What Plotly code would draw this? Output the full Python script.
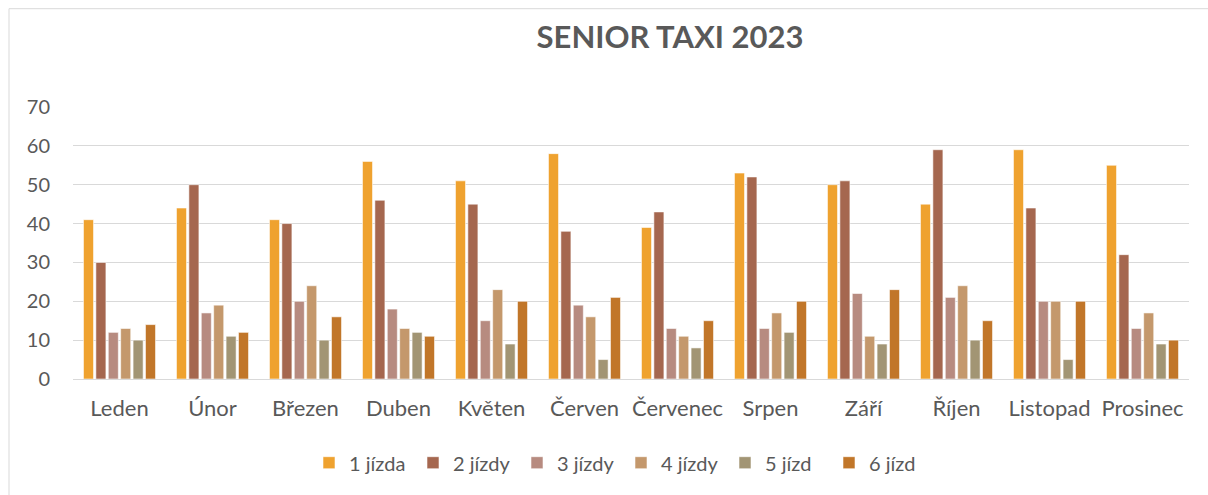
import plotly.graph_objects as go

months = ["Leden", "Únor", "Březen", "Duben", "Květen", "Červen", "Červenec",
          "Srpen", "Září", "Říjen", "Listopad", "Prosinec"]

jizda_1 = [41, 44, 41, 56, 51, 58, 39, 53, 50, 45, 59, 55]
jizdy_2 = [30, 50, 40, 46, 45, 38, 43, 52, 51, 59, 44, 32]
jizdy_3 = [12, 17, 20, 18, 15, 19, 13, 13, 22, 21, 20, 13]
jizdy_4 = [13, 19, 24, 13, 23, 16, 11, 17, 11, 24, 20, 17]
jizd_5 = [10, 11, 10, 12, 9, 5, 8, 12, 9, 10, 5, 9]
jizd_6 = [14, 12, 16, 11, 20, 21, 15, 20, 23, 15, 20, 10]

series_names = ["1 jízda", "2 jízdy", "3 jízdy", "4 jízdy", "5 jízd", "6 jízd"]
series_values = [jizda_1, jizdy_2, jizdy_3, jizdy_4, jizd_5, jizd_6]
colors = ["#EFA22F", "#A5674F", "#B78B80", "#C4986C", "#A29574", "#C17629"]

title_text = "SENIOR TAXI 2023"
y_ticks = [0, 10, 20, 30, 40, 50, 60, 70]

FONT = "Lato"
TXT = "#595959"

fig = go.Figure()
for name, vals, col in zip(series_names, series_values, colors):
    fig.add_trace(go.Bar(
        x=months, y=vals, name=name,
        marker=dict(color=col, line=dict(color="rgba(255,255,255,0.7)", width=0.8)),
    ))

W, H = 1208, 495
L, R = 73, 1189
T, B = 107.3, 379.3

fig.update_layout(
    width=W, height=H,
    margin=dict(l=L, r=W - R, t=T, b=H - B, autoexpand=False),
    paper_bgcolor="white", plot_bgcolor="white",
    barmode="group", bargap=0.2, bargroupgap=0.19,
    font=dict(family=FONT, color=TXT),
    title=dict(text="<b>" + title_text + "</b>", xref="container", yref="container",
               x=670 / W, y=1 - 37 / H, xanchor="center", yanchor="middle",
               font=dict(family=FONT, size=31, color=TXT)),
    showlegend=True,
    legend=dict(orientation="h", xref="paper", yref="paper",
                x=(621 - L) / (R - L), y=(B - 463) / (B - T),
                xanchor="center", yanchor="middle",
                font=dict(family=FONT, size=20, color=TXT),
                entrywidth=59, itemwidth=30, traceorder="normal"),
    shapes=[dict(type="rect", xref="paper", yref="paper",
                 x0=(9 - L) / (R - L), x1=(1215 - L) / (R - L),
                 y0=(B - 500) / (B - T), y1=(B - 9) / (B - T),
                 line=dict(color="#D9D9D9", width=1), layer="below")],
)

fig.update_xaxes(showgrid=False, showline=True, linecolor="#D9D9D9", linewidth=1,
                 ticks="", tickfont=dict(family=FONT, size=22, color=TXT),
                 ticklabelstandoff=10)
fig.update_yaxes(range=[0, 70], tickvals=y_ticks, showgrid=True, gridcolor="#D9D9D9",
                 gridwidth=1.3, zeroline=False, showline=False, ticks="",
                 tickfont=dict(family=FONT, size=20, color=TXT),
                 ticklabelstandoff=22)

fig.write_html("out.html", config={"displayModeBar": False},
               post_script="document.body.style.margin='0';")
